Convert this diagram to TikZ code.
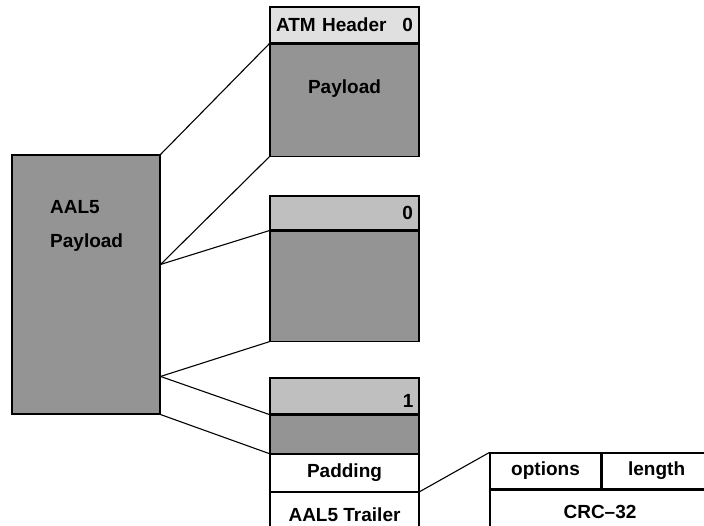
\documentclass[tikz,border=0pt]{standalone}
\usepackage{fontspec}
\setmainfont{Liberation Sans}
\usepackage{xcolor}
\usepackage{tikz}
\usetikzlibrary{positioning}

\begin{document}
\begin{tikzpicture}[
  x=1pt, y=-1pt,
  cellbox/.style={rectangle, draw, line width=1.1pt, inner sep=0pt, minimum width=149pt, font=\fontsize{19}{22}\selectfont\bfseries},
  hdrbox/.style={cellbox, fill=black!25, minimum height=35pt, text width=137pt},
  paybox/.style={cellbox, fill=black!42},
  plainbox/.style={cellbox, fill=white},
  lbl/.style={inner sep=0pt, font=\fontsize{19}{22}\selectfont\bfseries},
  link/.style={line width=1.1pt}
]
\useasboundingbox (0,0) rectangle (704,525);
\clip (0,0) rectangle (704,525);

% AAL5 payload
\node[paybox, minimum width=148pt, minimum height=259pt] (aal5) at (86,284.5) {};
\node[lbl, anchor=west] (aal5top) at (50,207) {AAL5};
\node[lbl, anchor=west] (aal5bot) at (50,243) {Payload};

% first cell
\node[hdrbox, fill=black!12, minimum height=36pt] (hdrA) at (344.5,25) {ATM Header\hfill 0};
\node[paybox, minimum height=112pt, below=0pt of hdrA] (payA) {};
\node[lbl] (payAtxt) at (344.5,89) {Payload};

% second cell
\node[hdrbox, minimum height=34pt] (hdrB) at (344.5,213) {\hfill 0};
\node[paybox, minimum height=110pt, below=0pt of hdrB] (payB) {};

% last cell
\node[hdrbox, minimum height=36pt] (hdrC) at (344.5,396) {};
\node[lbl, anchor=east] (oneC) at ([xshift=-6pt,yshift=-5pt]hdrC.east) {1};
\node[paybox, minimum height=38pt, below=0pt of hdrC] (payC) {};
\node[plainbox, minimum height=37pt, below=0pt of payC] (pad) {Padding};
\node[plainbox, minimum height=44pt, below=0pt of pad] (trl) {AAL5 Trailer};

% trailer fields
\node[plainbox, minimum width=111pt, minimum height=36pt] (opt) at (545.5,471) {options};
\node[plainbox, minimum width=109pt, minimum height=36pt, right=0pt of opt] (len) {length};
\node[plainbox, minimum width=220pt, minimum height=44pt, below=0pt of opt.south west, anchor=north west] (crc) {CRC--32};

\path (aal5.north east) ++(0,110) coordinate (forkA);
\path (aal5.north east) ++(0,222) coordinate (forkB);

\draw[link] (aal5.north east) -- (payA.north west);
\draw[link] (forkA) -- (payA.south west);
\draw[link] (forkA) -- (payB.north west);
\draw[link] (forkB) -- (payB.south west);
\draw[link] (forkB) -- (payC.north west);
\draw[link] (aal5.south east) -- (payC.south west);
\draw[link] (trl.north east) -- (opt.north west);
\end{tikzpicture}
\end{document}
